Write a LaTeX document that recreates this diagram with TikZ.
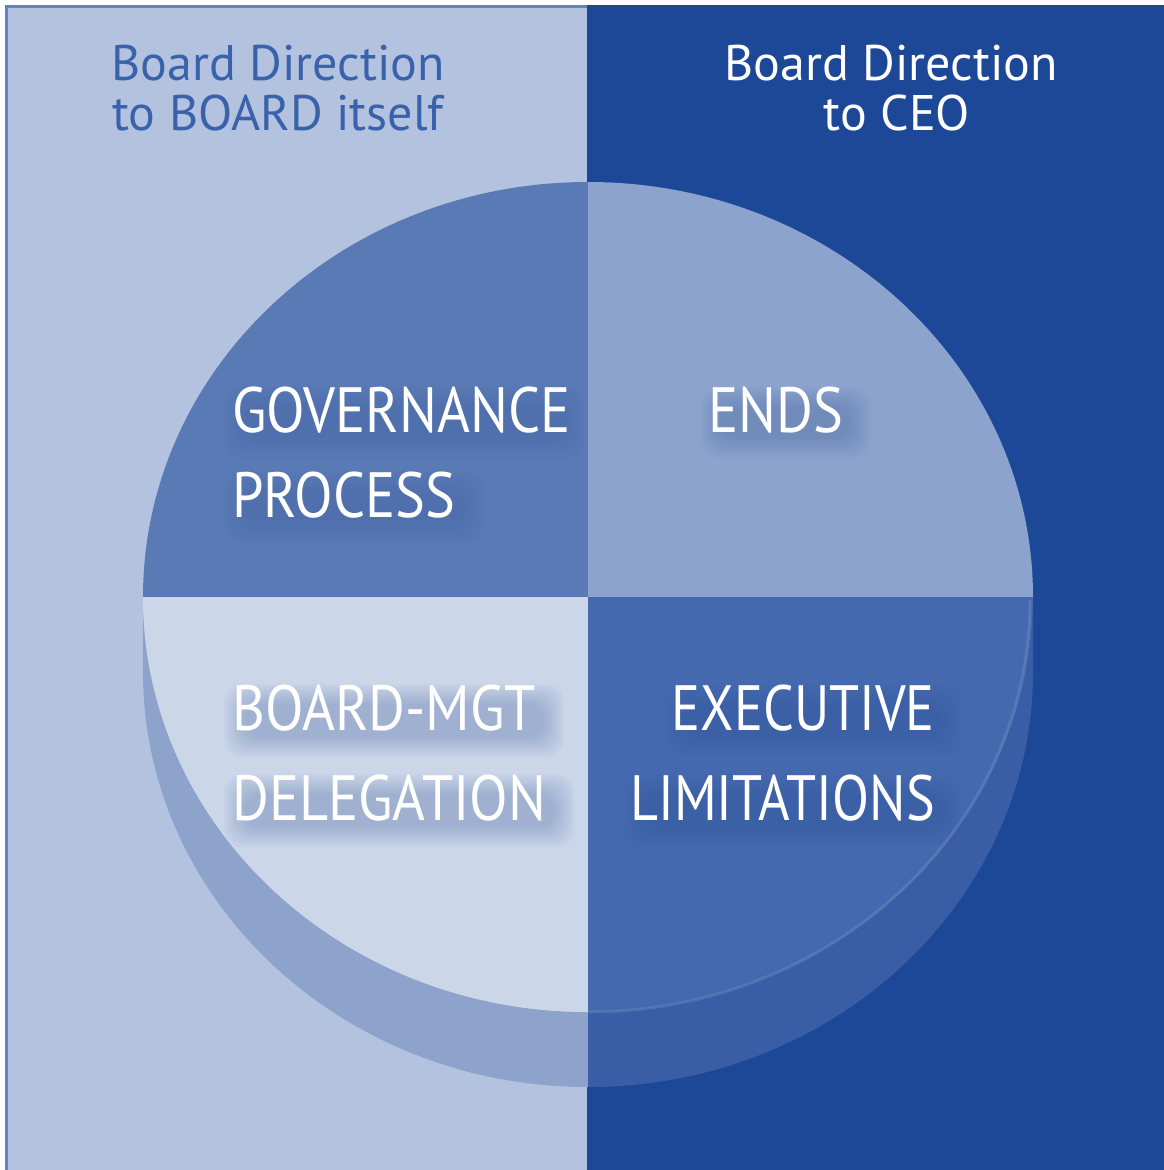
\documentclass[tikz,border=0pt]{standalone}
\usepackage{fontspec}
\setmainfont{PT Sans}
\newfontfamily\qfont[FakeStretch=0.88]{PT Sans}
\newfontfamily\qfontn[FakeStretch=0.845]{PT Sans}
\newfontfamily\hfont{PT Sans}
\usetikzlibrary{calc}
\pgfdeclarelayer{shapes}
\pgfdeclarelayer{glow}
\pgfsetlayers{shapes,glow,main}
\definecolor{lightbg}{HTML}{B3C3DF}
\definecolor{darkbg}{HTML}{1D4897}
\definecolor{framec}{HTML}{6482BD}
\definecolor{qTL}{HTML}{5A7AB5}
\definecolor{qTR}{HTML}{8CA4CD}
\definecolor{qBL}{HTML}{CBD6E9}
\definecolor{qBR}{HTML}{4569AE}
\definecolor{bandL}{HTML}{8DA3CC}
\definecolor{bandR}{HTML}{3A5EA6}
\definecolor{headblue}{HTML}{3A62AA}
\definecolor{shadowc}{HTML}{3A5CA0}
\tikzset{
  qlabel/.style={text=white, font=\qfont\fontsize{64}{64}\selectfont, inner sep=0pt},
  qlabeln/.style={text=white, font=\qfontn\fontsize{64}{64}\selectfont, inner sep=0pt},
  hlabel/.style={font=\hfont\fontsize{50}{50}\selectfont, inner sep=0pt, anchor=base},
  ell/.style={x radius=445, y radius=415},
  glowpatch/.style={fill=shadowc, fill opacity=0.035, rounded corners=18pt}
}
% soft glow behind a label node: nested rounded rectangles
\newcommand\glowbehind[2]{%
  \begin{pgfonlayer}{glow}
  \foreach \k in {0,...,8}{%
    \fill[glowpatch] ($(#1.south west)+(-8+2.5*\k,-26+2.5*\k)$) rectangle ($(#1.north east)+(#2-2.5*\k,0-2.5*\k)$);}
  \end{pgfonlayer}}
\begin{document}
\begin{tikzpicture}[x=1pt,y=1pt]
\useasboundingbox (0,0) rectangle (1164,-1170);
\begin{pgfonlayer}{shapes}
\fill[white] (0,0) rectangle (1164,-1170);
% panels
\fill[lightbg] (5,-5) rectangle (588,-1170);
\fill[darkbg] (587,-5) rectangle (1164,-1170);
\draw[framec, line width=3] (6.5,-1170) -- (6.5,-6.5) -- (587,-6.5);
% side band of the disc
\fill[bandL] (143,-597) -- (143,-672) arc[start angle=180, end angle=270, ell]
  -- (588,-1012) arc[start angle=270, end angle=180, ell] -- cycle;
\fill[bandR] (588,-1087) arc[start angle=270, end angle=360, ell]
  -- (1033,-597) arc[start angle=0, end angle=-90, ell] -- cycle;
% top face quadrants
\fill[qTL] (588,-597) -- (143,-597) arc[start angle=180, end angle=90, ell] -- cycle;
\fill[qTR] (588,-597) -- (588,-182) arc[start angle=90, end angle=0, ell] -- cycle;
\fill[qBL] (588,-597) -- (143,-597) arc[start angle=180, end angle=270, ell] -- cycle;
\fill[qBR] (588,-597) -- (1033,-597) arc[start angle=0, end angle=-90, ell] -- cycle;
\draw[white, opacity=0.10, line width=3] (1030,-600) arc[start angle=0, end angle=-90, x radius=442, y radius=412];
\end{pgfonlayer}
% headers
\node[hlabel, text=headblue] (hl1) at (278,-80) {Board Direction};
\node[hlabel, text=headblue] (hl2) at (278,-130) {to BOARD itself};
\node[hlabel, text=white] (hr1) at (891,-80) {Board Direction};
\node[hlabel, text=white] (hr2) at (897,-130) {to CEO};
% quadrant labels
\node[qlabel, anchor=base west] (gov) at (232,-432) {GOVERNANCE};
\node[qlabel, anchor=base west] (proc) at (232,-517) {PROCESS};
\node[qlabel, anchor=base west] (ends) at (708,-432) {ENDS};
\node[qlabel, anchor=base west] (bmgt) at (232,-730) {BOARD-MGT};
\node[qlabel, anchor=base west] (deleg) at (232,-820) {DELEGATION};
\node[qlabeln, anchor=base east] (exec) at (935,-730) {EXECUTIVE};
\node[qlabeln, anchor=base east] (limit) at (935,-820) {LIMITATIONS};
\glowbehind{gov}{14}
\glowbehind{proc}{28}
\glowbehind{ends}{28}
\glowbehind{bmgt}{28}
\glowbehind{deleg}{28}
\glowbehind{exec}{28}
\glowbehind{limit}{28}
\end{tikzpicture}
\end{document}
